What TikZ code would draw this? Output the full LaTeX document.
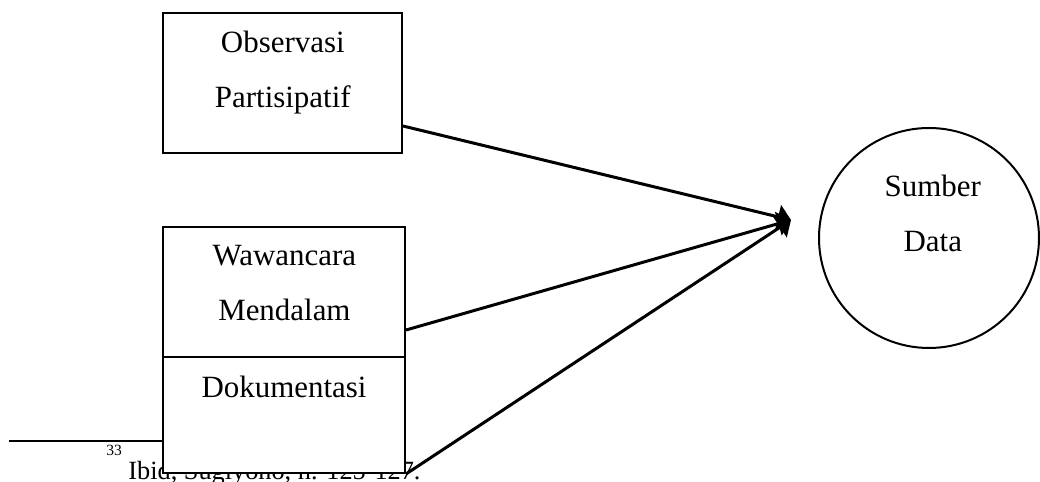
\documentclass[tikz,border=0pt]{standalone}
\usepackage{fontspec}
\setmainfont{Liberation Serif}
\usetikzlibrary{arrows.meta,positioning,calc}

\tikzset{
  box/.style={rectangle, draw=black, line width=0.05cm, fill=white, inner sep=0pt},
  txt/.style={align=center, inner sep=0pt, font=\fontsize{22}{39.7}\selectfont},
  link/.style={line width=0.075cm, -{Triangle[length=0.33cm, width=0.6cm]}}
}

\begin{document}
\begin{tikzpicture}
  \useasboundingbox (0,0) rectangle (26,12.05);

  % footnote, partly hidden by the boxes
  \coordinate (rs) at (0.225,1.025);
  \node (fn) [anchor=base west, inner sep=0pt, font=\fontsize{18.7}{22}\selectfont] at (2.65,0.05)
    {\raisebox{0.6cm}{\fontsize{11.1}{12}\selectfont 33} Ibid, Sugiyono, h. 125-127.};
  \draw [line width=0.05cm] (rs) -- (5,1.025);

  \node (obs) [box, minimum width=5.975cm, minimum height=3.5cm] at (7.06,9.975) {};
  \node (wwc) [box, minimum width=6.05cm, minimum height=3.25cm] at (7.1,4.75) {};
  \node (dok) [box, minimum width=6.05cm, minimum height=2.9cm] at (7.1,1.675) {};
  \node (src) [circle, draw=black, line width=0.05cm, minimum size=5.5cm, inner sep=0pt] at (23.225,6.1) {};

  % base = last line
  \node (obstext) [txt, anchor=base] at (7.07,9.35) {Observasi\\Partisipatif};
  \node (wwctext) [txt, anchor=base] at (7.11,4.025) {Wawancara\\Mendalam};
  \node (doktext) [txt, anchor=base] at (7.1,2.1) {Dokumentasi};
  \node (srctext) [txt, anchor=base] at (23.32,5.75) {Sumber\\Data};

  \coordinate (tip) at (19.775,6.55);
  \draw [link] ($(obs.east)+(0,-1.075)$) -- (tip);
  \draw [link] ($(wwc.east)+(0,-0.95)$) -- (tip);
  \draw [link] (dok.south east) -- (tip);
\end{tikzpicture}
\end{document}
